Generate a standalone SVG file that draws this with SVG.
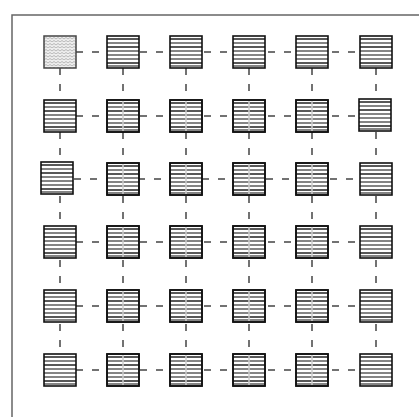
<svg xmlns="http://www.w3.org/2000/svg" xmlns:xlink="http://www.w3.org/1999/xlink" width="419" height="417" viewBox="0 0 419 417">
<style>
.frame{fill:none;stroke:#666;stroke-width:1.5}
.conn line{stroke:#444;stroke-width:1.5;stroke-dasharray:7 9}
.bd{fill:none;stroke:#111;stroke-width:1.6}
.bg{fill:#fff}
.s1{stroke:#111;stroke-width:1.4}
.s2{stroke:#666;stroke-width:1.6}
.s3{stroke:#333;stroke-width:1.2}
.v{stroke:#ccc;stroke-width:1.5}
</style>
<defs>
<pattern id="scales" width="8" height="6" patternUnits="userSpaceOnUse">
<rect width="8" height="6" fill="#eee"/>
<path d="M0 3 Q2 0 4 3 Q6 0 8 3 M-4 6 Q-2 3 0 6 Q2 3 4 6 Q6 3 8 6" fill="none" stroke="#aaa" stroke-width="0.8"/>
</pattern>
<g id="st">
<rect class="bg" width="32" height="32"/>
<line class="s1" x1="0" y1="3" x2="32" y2="3"/>
<line class="s2" x1="0" y1="7" x2="32" y2="7"/>
<line class="s1" x1="0" y1="11" x2="32" y2="11"/>
<line class="s2" x1="0" y1="15" x2="32" y2="15"/>
<line class="s3" x1="0" y1="19" x2="32" y2="19"/>
<line class="s2" x1="0" y1="23" x2="32" y2="23"/>
<line class="s1" x1="0" y1="27" x2="32" y2="27"/>
<line class="s2" x1="0" y1="30" x2="32" y2="30"/>
<rect class="bd" width="32" height="32"/>
</g>
<g id="sv">
<use xlink:href="#st"/>
<line class="v" x1="16" y1="1" x2="16" y2="31"/>
<rect class="bd" width="32" height="32"/>
</g>
</defs>
<rect class="frame" x="12" y="15" width="420" height="420"/>
<g id="connectors" class="conn">
<line x1="60" y1="52" x2="376" y2="52"/>
<line x1="60" y1="116" x2="376" y2="116"/>
<line x1="58" y1="179" x2="376" y2="179"/>
<line x1="60" y1="242" x2="376" y2="242"/>
<line x1="60" y1="306" x2="376" y2="306"/>
<line x1="60" y1="370" x2="376" y2="370"/>
<line x1="60" y1="52" x2="60" y2="370"/>
<line x1="123" y1="52" x2="123" y2="370"/>
<line x1="186" y1="52" x2="186" y2="370"/>
<line x1="249" y1="52" x2="249" y2="370"/>
<line x1="312" y1="52" x2="312" y2="370"/>
<line x1="376" y1="52" x2="376" y2="370"/>
</g>
<g id="n11"><rect x="44" y="36" width="32" height="32" fill="url(#scales)" stroke="#444" stroke-width="1.5"/></g>
<g id="n12"><use xlink:href="#st" x="107" y="36"/></g>
<g id="n13"><use xlink:href="#st" x="170" y="36"/></g>
<g id="n14"><use xlink:href="#st" x="233" y="36"/></g>
<g id="n15"><use xlink:href="#st" x="296" y="36"/></g>
<g id="n16"><use xlink:href="#st" x="360" y="36"/></g>
<g id="n21"><use xlink:href="#st" x="44" y="100"/></g>
<g id="n22"><use xlink:href="#sv" x="107" y="100"/></g>
<g id="n23"><use xlink:href="#sv" x="170" y="100"/></g>
<g id="n24"><use xlink:href="#sv" x="233" y="100"/></g>
<g id="n25"><use xlink:href="#sv" x="296" y="100"/></g>
<g id="n26"><use xlink:href="#st" x="359" y="99"/></g>
<g id="n31"><use xlink:href="#st" x="41" y="162"/></g>
<g id="n32"><use xlink:href="#sv" x="107" y="163"/></g>
<g id="n33"><use xlink:href="#sv" x="170" y="163"/></g>
<g id="n34"><use xlink:href="#sv" x="233" y="163"/></g>
<g id="n35"><use xlink:href="#sv" x="296" y="163"/></g>
<g id="n36"><use xlink:href="#st" x="360" y="163"/></g>
<g id="n41"><use xlink:href="#st" x="44" y="226"/></g>
<g id="n42"><use xlink:href="#sv" x="107" y="226"/></g>
<g id="n43"><use xlink:href="#sv" x="170" y="226"/></g>
<g id="n44"><use xlink:href="#sv" x="233" y="226"/></g>
<g id="n45"><use xlink:href="#sv" x="296" y="226"/></g>
<g id="n46"><use xlink:href="#st" x="360" y="226"/></g>
<g id="n51"><use xlink:href="#st" x="44" y="290"/></g>
<g id="n52"><use xlink:href="#sv" x="107" y="290"/></g>
<g id="n53"><use xlink:href="#sv" x="170" y="290"/></g>
<g id="n54"><use xlink:href="#sv" x="233" y="290"/></g>
<g id="n55"><use xlink:href="#sv" x="296" y="290"/></g>
<g id="n56"><use xlink:href="#st" x="360" y="290"/></g>
<g id="n61"><use xlink:href="#st" x="44" y="354"/></g>
<g id="n62"><use xlink:href="#sv" x="107" y="354"/></g>
<g id="n63"><use xlink:href="#sv" x="170" y="354"/></g>
<g id="n64"><use xlink:href="#sv" x="233" y="354"/></g>
<g id="n65"><use xlink:href="#sv" x="296" y="354"/></g>
<g id="n66"><use xlink:href="#st" x="360" y="354"/></g>
</svg>
